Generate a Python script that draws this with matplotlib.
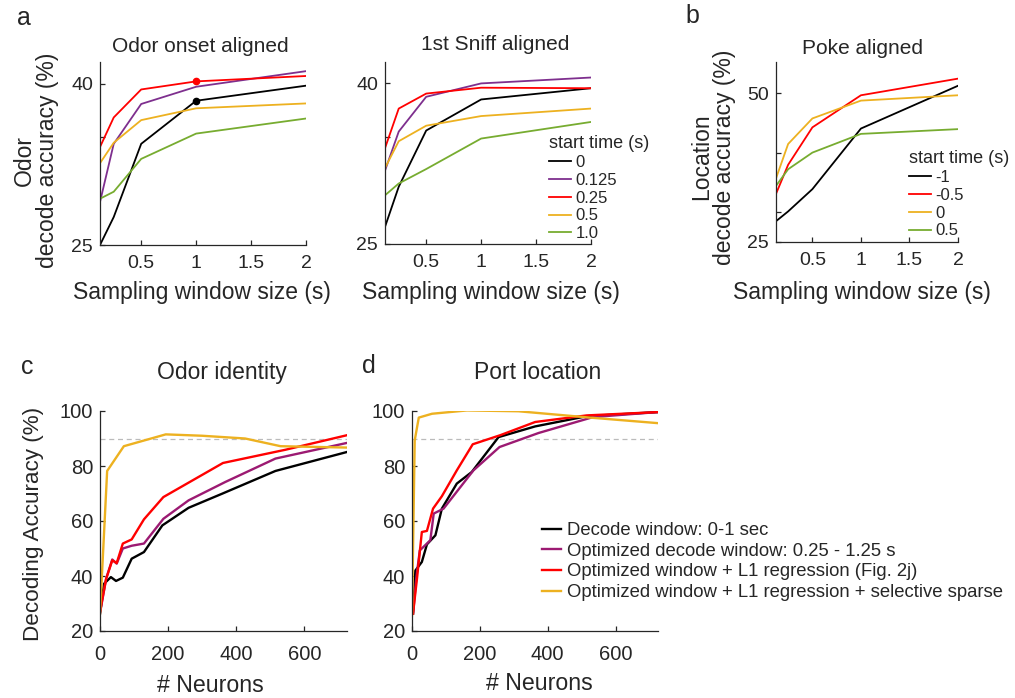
import numpy as np
import matplotlib.pyplot as plt

plt.rcParams['font.family'] = ['Liberation Sans', 'DejaVu Sans']
plt.rcParams['text.color'] = '#262626'

# ---- panel a/b data: window size (s) vs decode accuracy (%)
win = [0.125, 0.25, 0.5, 1, 2]

onset_0 = [25.0, 27.6, 34.4, 38.4, 39.8]
onset_0125 = [29.0, 34.4, 38.1, 39.7, 41.15]
onset_025 = [34.1, 36.85, 39.45, 40.2, 40.7]
onset_05 = [32.6, 34.5, 36.6, 37.7, 38.15]
onset_1 = [29.3, 29.95, 33.0, 35.35, 36.75]

sniff_0 = [26.6, 30.35, 35.6, 38.5, 39.55]
sniff_0125 = [31.85, 35.5, 38.75, 40.0, 40.55]
sniff_025 = [33.95, 37.65, 39.05, 39.6, 39.55]
sniff_05 = [32.1, 34.6, 36.05, 36.95, 37.65]
sniff_1 = [29.55, 30.65, 32.0, 34.85, 36.4]

poke_m1 = [28.5, 30.15, 33.9, 44.1, 51.3]
poke_m05 = [33.1, 38.0, 44.3, 49.7, 52.5]
poke_0 = [35.7, 41.5, 45.8, 48.8, 49.7]
poke_05 = [34.45, 37.25, 40.05, 43.2, 44.0]

start_labels_a = ['0', '0.125', '0.25', '0.5', '1.0']
start_labels_b = ['-1', '-0.5', '0', '0.5']

# ---- panel c/d data: # neurons vs decoding accuracy (%)
odor_base_n = [0, 12, 32, 47, 67, 93, 129, 183, 260, 358, 515, 725]
odor_base = [26.3, 37.2, 39.6, 38.2, 39.4, 46.3, 48.7, 58.4, 64.8, 69.9, 78.2, 85.1]
odor_opt_n = [0, 18, 36, 49, 67, 93, 129, 186, 260, 368, 515, 725]
odor_opt = [26.5, 39.0, 46.0, 44.5, 50.0, 51.0, 51.8, 60.8, 67.5, 74.2, 82.7, 88.4]
odor_l1_n = [0, 18, 36, 49, 67, 93, 129, 186, 361, 544, 725]
odor_l1 = [27.0, 39.0, 45.7, 44.7, 51.8, 53.3, 60.6, 68.7, 81.1, 85.9, 91.2]
odor_sparse_n = [0, 21, 70, 193, 300, 426, 530, 725]
odor_sparse = [26.3, 78.2, 87.2, 91.5, 91.0, 90.0, 87.2, 86.7]

port_base_n = [3, 10, 29, 44, 69, 88, 132, 176, 255, 363, 515, 723]
port_base = [26.3, 42.0, 45.1, 51.5, 54.8, 64.5, 73.6, 77.8, 90.5, 94.4, 98.1, 99.6]
port_opt_n = [3, 13, 23, 54, 64, 93, 181, 258, 373, 534, 723]
port_opt = [26.3, 39.6, 49.3, 53.0, 62.7, 64.5, 78.4, 86.9, 92.0, 97.8, 99.6]
port_l1_n = [3, 15, 29, 44, 62, 88, 132, 179, 260, 363, 515, 723]
port_l1 = [26.3, 39.4, 56.0, 56.4, 64.5, 69.0, 78.4, 87.9, 91.2, 96.0, 98.4, 99.6]
port_sparse_n = [0, 8, 20, 59, 162, 314, 525, 723]
port_sparse = [25.7, 89.3, 97.6, 99.0, 100.2, 99.9, 97.6, 95.6]

method_labels = ['Decode window: 0-1 sec',
                 'Optimized decode window: 0.25 - 1.25 s',
                 'Optimized window + L1 regression (Fig. 2j)',
                 'Optimized window + L1 regression + selective sparse']

c_black, c_purple, c_red, c_yellow, c_green = '#000000', '#7E2F8E', '#FF0000', '#EDB120', '#77AC30'
c_magenta = '#9C1A72'
axcol = '#262626'

W, H = 1015, 698
fig = plt.figure(figsize=(W / 100, H / 100), dpi=100)


def place(x0, y0, x1, y1):
    return fig.add_axes([x0 / W, 1 - y1 / H, (x1 - x0) / W, (y1 - y0) / H])


def style(ax, size=14, pad=7):
    for s in ['top', 'right']:
        ax.spines[s].set_visible(False)
    for s in ['left', 'bottom']:
        ax.spines[s].set_color(axcol)
        ax.spines[s].set_linewidth(0.9)
    ax.tick_params(direction='in', length=3.5, width=0.9, colors=axcol, labelsize=size)
    ax.tick_params(axis='x', pad=pad)
    ax.tick_params(axis='y', pad=5)


def ftext(x, y, s, **kw):
    fig.text(x / W, 1 - y / H, s, ha='center', va='center', **kw)


def put_legend(ax, x, y, **kw):
    leg = ax.legend(loc='upper left', bbox_to_anchor=(x / W, 1 - y / H),
                    bbox_transform=fig.transFigure, frameon=False,
                    borderpad=0, borderaxespad=0, handletextpad=0.3, **kw)
    leg._legend_box.align = 'left'
    return leg


lw_a = 1.3
ax1 = place(100, 62, 306, 245)
ax1.plot(win, onset_0, color=c_black, lw=lw_a, label=start_labels_a[0])
ax1.plot(win, onset_0125, color=c_purple, lw=lw_a, label=start_labels_a[1])
ax1.plot(win, onset_025, color=c_red, lw=lw_a, label=start_labels_a[2])
ax1.plot(win, onset_05, color=c_yellow, lw=lw_a, label=start_labels_a[3])
ax1.plot(win, onset_1, color=c_green, lw=lw_a, label=start_labels_a[4])
ax1.plot(win[3], onset_025[3], 'o', color=c_red, ms=4.5)
ax1.plot(win[3], onset_0[3], 'o', color=c_black, ms=4.5)

ax2 = place(385, 62, 591, 244)
ax2.plot(win, sniff_0, color=c_black, lw=lw_a, label=start_labels_a[0])
ax2.plot(win, sniff_0125, color=c_purple, lw=lw_a, label=start_labels_a[1])
ax2.plot(win, sniff_025, color=c_red, lw=lw_a, label=start_labels_a[2])
ax2.plot(win, sniff_05, color=c_yellow, lw=lw_a, label=start_labels_a[3])
ax2.plot(win, sniff_1, color=c_green, lw=lw_a, label=start_labels_a[4])

for ax in (ax1, ax2):
    ax.set_xlim(0.125, 2)
    ax.set_ylim(25, 42)
    ax.set_xticks([0.5, 1, 1.5, 2], ['0.5', '1', '1.5', '2'])
    ax.set_yticks([25, 35, 40], ['25', '', '40'])
    style(ax)

put_legend(ax2, 549, 135, title='start time (s)', fontsize=12, title_fontsize=13,
           handlelength=1.3, labelspacing=0.17)

ax3 = place(776, 62, 958, 242)
ax3.plot(win, poke_m1, color=c_black, lw=lw_a, label=start_labels_b[0])
ax3.plot(win, poke_m05, color=c_red, lw=lw_a, label=start_labels_b[1])
ax3.plot(win, poke_0, color=c_yellow, lw=lw_a, label=start_labels_b[2])
ax3.plot(win, poke_05, color=c_green, lw=lw_a, label=start_labels_b[3])
ax3.set_xlim(0.125, 2)
ax3.set_ylim(25, 55.3)
ax3.set_xticks([0.5, 1, 1.5, 2], ['0.5', '1', '1.5', '2'])
ax3.set_yticks([25, 30, 40, 50], ['25', '', '', '50'])
style(ax3)
put_legend(ax3, 909, 150, title='start time (s)', fontsize=12, title_fontsize=13,
           handlelength=1.3, labelspacing=0.17)

lw_c = 1.7
ax4 = place(100, 411, 347, 631)
ax4.plot(odor_base_n, odor_base, color=c_black, lw=lw_c, label=method_labels[0])
ax4.plot(odor_opt_n, odor_opt, color=c_magenta, lw=lw_c, label=method_labels[1])
ax4.plot(odor_l1_n, odor_l1, color=c_red, lw=lw_c, label=method_labels[2])
ax4.plot(odor_sparse_n, odor_sparse, color=c_yellow, lw=lw_c, label=method_labels[3])

ax5 = place(412, 411, 658, 631)
ax5.plot(port_base_n, port_base, color=c_black, lw=lw_c, label=method_labels[0])
ax5.plot(port_opt_n, port_opt, color=c_magenta, lw=lw_c, label=method_labels[1])
ax5.plot(port_l1_n, port_l1, color=c_red, lw=lw_c, label=method_labels[2])
ax5.plot(port_sparse_n, port_sparse, color=c_yellow, lw=lw_c, label=method_labels[3])

for ax in (ax4, ax5):
    ax.axhline(90, color='#BBBBBB', lw=0.9, ls=(0, (4, 3)), zorder=0)
    ax.set_xlim(0, 725)
    ax.set_ylim(20, 100)
    ax.set_xticks([0, 200, 400, 600])
    ax.set_yticks([20, 40, 60, 80, 100])
    style(ax, size=14.5, pad=10)

put_legend(ax5, 542, 522, fontsize=13.3, handlelength=1.05, labelspacing=0.2)

# text: titles, axis labels, panel letters
ftext(200, 47, 'Odor onset aligned', fontsize=15)
ftext(495, 45, '1st Sniff aligned', fontsize=15)
ftext(862, 48, 'Poke aligned', fontsize=15)
ftext(222, 372, 'Odor identity', fontsize=16.5)
ftext(538, 372, 'Port location', fontsize=16.5)

for xc in (202, 491, 862):
    ftext(xc, 293, 'Sampling window size (s)', fontsize=16.5)
ftext(210, 685, '# Neurons', fontsize=16.7)
ftext(539, 684, '# Neurons', fontsize=16.7)

ftext(36, 160, 'Odor\ndecode accuracy (%)', fontsize=16.5, rotation=90, linespacing=1.0)
ftext(713, 157, 'Location\ndecode accuracy (%)', fontsize=16.5, rotation=90, linespacing=1.0)
ftext(34, 524, 'Decoding Accuracy (%)', fontsize=16.2, rotation=90)

ftext(24, 18, 'a', fontsize=18)
ftext(692, 16, 'b', fontsize=18)
ftext(27, 367, 'c', fontsize=18)
ftext(369, 366, 'd', fontsize=18)

fig.savefig('out.png', dpi=100)
